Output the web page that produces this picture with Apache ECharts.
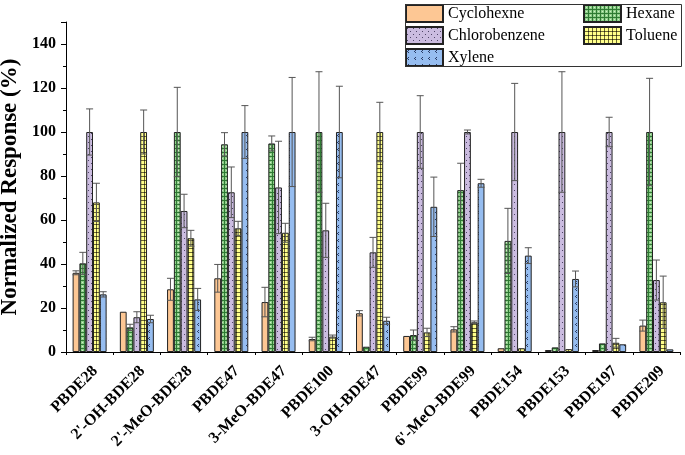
<!DOCTYPE html>
<html>
<head>
<meta charset="utf-8">
<script src="https://cdn.jsdelivr.net/npm/echarts@6/dist/echarts.min.js"></script>
<style>html,body{margin:0;padding:0;background:#fff;}#c{width:685px;height:455px;}</style>
</head>
<body>
<div id="c"></div>
<script>
var categories = ["PBDE28","2'-OH-BDE28","2'-MeO-BDE28","PBDE47","3-MeO-BDE47","PBDE100","3-OH-BDE47","PBDE99","6'-MeO-BDE99","PBDE154","PBDE153","PBDE197","PBDE209"];
var seriesNames = ["Cyclohexne","Hexane","Chlorobenzene","Toluene","Xylene"];
var cyclohexne    = [36, 18.3, 28.5, 33.5, 22.7, 5.9, 17.6, 7.3, 10.3, 1.7, 0.9, 0.9, 12];
var hexane        = [40.3, 11.2, 100, 94.4, 94.8, 100, 2.4, 7.7, 73.6, 50.5, 2.1, 3.9, 100];
var chlorobenzene = [100, 15.8, 64.1, 72.6, 74.8, 55.3, 45.3, 100, 100, 100, 100, 100, 32.7];
var toluene       = [68, 100, 51.7, 56.2, 54.2, 7, 100, 8.9, 13.5, 1.7, 1.3, 4.2, 22.6];
var xylene        = [26.2, 15, 23.9, 100, 100, 100, 14.2, 66, 76.7, 43.8, 33.2, 3.5, 1.2];
var cyclohexneErr    = [0.9, 0, 5, 6.3, 6.7, 0.8, 1.2, 0, 1.2, 0, 0, 0, 2.5];
var hexaneErr        = [5, 1.4, 20.3, 5.3, 3.4, 27.4, 0, 2.3, 12.2, 14.8, 0, 0, 24.4];
var chlorobenzeneErr = [10.5, 2.5, 7.6, 11.5, 21, 12.3, 6.8, 16.5, 0.9, 22.1, 27.4, 6.7, 9.1];
var tolueneErr       = [8.7, 10, 3.6, 3.2, 4.3, 0.7, 13.5, 1.9, 0.6, 0, 0, 2, 11.9];
var xyleneErr        = [1.2, 1.7, 5, 12, 24.8, 20.8, 1.6, 13.5, 1.8, 3.6, 3.6, 0, 0];
var yTicks = [0, 20, 40, 60, 80, 100, 120, 140];

var values = [cyclohexne, hexane, chlorobenzene, toluene, xylene];
var errors = [cyclohexneErr, hexaneErr, chlorobenzeneErr, tolueneErr, xyleneErr];

function pat(w, h, draw) {
  var c = document.createElement('canvas');
  c.width = w; c.height = h;
  var g = c.getContext('2d');
  draw(g);
  return { image: c, repeat: 'repeat' };
}
var fills = [
  '#FDC794',
  pat(4, 4, function (g) {
    g.fillStyle = '#8FCF8A'; g.fillRect(0, 0, 4, 4);
    g.fillStyle = '#2F7A34'; g.fillRect(0, 0, 4, 1); g.fillRect(0, 0, 1, 4);
    g.fillStyle = '#CFEFC8'; g.fillRect(2, 2, 1, 1);
  }),
  pat(6, 6, function (g) {
    g.fillStyle = '#CBBCE0'; g.fillRect(0, 0, 6, 6);
    g.fillStyle = '#4E4466'; g.fillRect(1, 1, 1, 1); g.fillRect(4, 4, 1, 1);
  }),
  pat(4, 4, function (g) {
    g.fillStyle = '#FFFF8C'; g.fillRect(0, 0, 4, 4);
    g.fillStyle = '#6E6A2E'; g.fillRect(0, 0, 4, 1); g.fillRect(0, 0, 1, 4);
    g.fillStyle = '#222'; g.fillRect(0, 0, 1, 1);
  }),
  pat(7, 7, function (g) {
    g.fillStyle = '#96BDF0'; g.fillRect(0, 0, 7, 7);
    g.fillStyle = '#2A3C66'; g.fillRect(2, 1, 1, 1); g.fillRect(1, 2, 1, 1); g.fillRect(2, 3, 1, 1);
  })
];

var BW = 6.8;
var series = [];
seriesNames.forEach(function (name, i) {
  series.push({
    name: name, type: 'bar', barWidth: BW, barGap: '0%',
    itemStyle: { color: fills[i], borderColor: '#222', borderWidth: 1 },
    data: values[i], z: 2
  });
});
seriesNames.forEach(function (name, i) {
  var off = (i - 2) * BW;
  series.push({
    name: name + '_err', type: 'custom', z: 5, silent: true,
    data: values[i].map(function (v, k) { return [k, v, errors[i][k]]; }),
    renderItem: function (params, api) {
      var x = api.value(0), v = api.value(1), e = api.value(2);
      if (!e) return;
      var hi = api.coord([x, v + e]);
      var lo = api.coord([x, Math.max(0, v - e)]);
      var cx = hi[0] + off;
      var st = { stroke: '#555', lineWidth: 1 };
      return { type: 'group', children: [
        { type: 'line', shape: { x1: cx, y1: hi[1], x2: cx, y2: lo[1] }, style: st },
        { type: 'line', shape: { x1: cx - 3.5, y1: hi[1], x2: cx + 3.5, y2: hi[1] }, style: st },
        { type: 'line', shape: { x1: cx - 3.5, y1: lo[1], x2: cx + 3.5, y2: lo[1] }, style: st }
      ]};
    }
  });
});

var serif = '"Liberation Serif", "Times New Roman", serif';
var chart = echarts.init(document.getElementById('c'));
chart.setOption({
  animation: false,
  grid: { left: 66, right: 5, top: 22, bottom: 103, containLabel: false, outerBoundsMode: 'none' },
  legend: [
    { left: 405, top: 4, padding: 0, orient: 'vertical', icon: 'rect', itemWidth: 37, itemHeight: 17, itemGap: 3,
      data: ['Cyclohexne', 'Chlorobenzene', 'Xylene'],
      textStyle: { fontFamily: serif, fontSize: 16, color: '#000' } },
    { left: 583, top: 4, padding: 0, orient: 'vertical', icon: 'rect', itemWidth: 37, itemHeight: 17, itemGap: 3,
      data: ['Hexane', 'Toluene'],
      textStyle: { fontFamily: serif, fontSize: 16, color: '#000' } }
  ],
  graphic: [{ type: 'rect', left: 403, top: 2, shape: { width: 276, height: 62 },
    style: { fill: 'none', stroke: '#333', lineWidth: 1 }, z: 100 }],
  xAxis: [
    { type: 'category', data: categories,
      axisLine: { lineStyle: { color: '#000', width: 1 } },
      axisTick: { alignWithLabel: true, length: 5, lineStyle: { color: '#000' } },
      axisLabel: { interval: 0, rotate: 45, margin: 11, align: 'right', verticalAlign: 'top', color: '#000', fontFamily: serif, fontWeight: 'bold', fontSize: 16 } },
    { type: 'value', position: 'bottom', min: 0, max: 13, interval: 1,
      axisLine: { show: false }, axisLabel: { show: false }, splitLine: { show: false },
      axisTick: { show: true, length: 3, lineStyle: { color: '#000' } } }
  ],
  yAxis: {
    type: 'value', min: 0, max: 150, interval: 20,
    name: 'Normalized Response (%)', nameLocation: 'middle', nameGap: 42,
    nameTextStyle: { fontFamily: serif, fontWeight: 'bold', fontSize: 23, color: '#000' },
    axisLine: { show: true, lineStyle: { color: '#000', width: 1 } },
    axisTick: { show: true, length: 5, lineStyle: { color: '#000' } },
    minorTick: { show: true, splitNumber: 2, length: 3, lineStyle: { color: '#000' } },
    splitLine: { show: false },
    axisLabel: { color: '#000', fontFamily: serif, fontWeight: 'bold', fontSize: 16, margin: 10,
      formatter: function (v) { return yTicks.indexOf(v) >= 0 ? String(v) : ''; } }
  },
  series: series
});
</script>
</body>
</html>
